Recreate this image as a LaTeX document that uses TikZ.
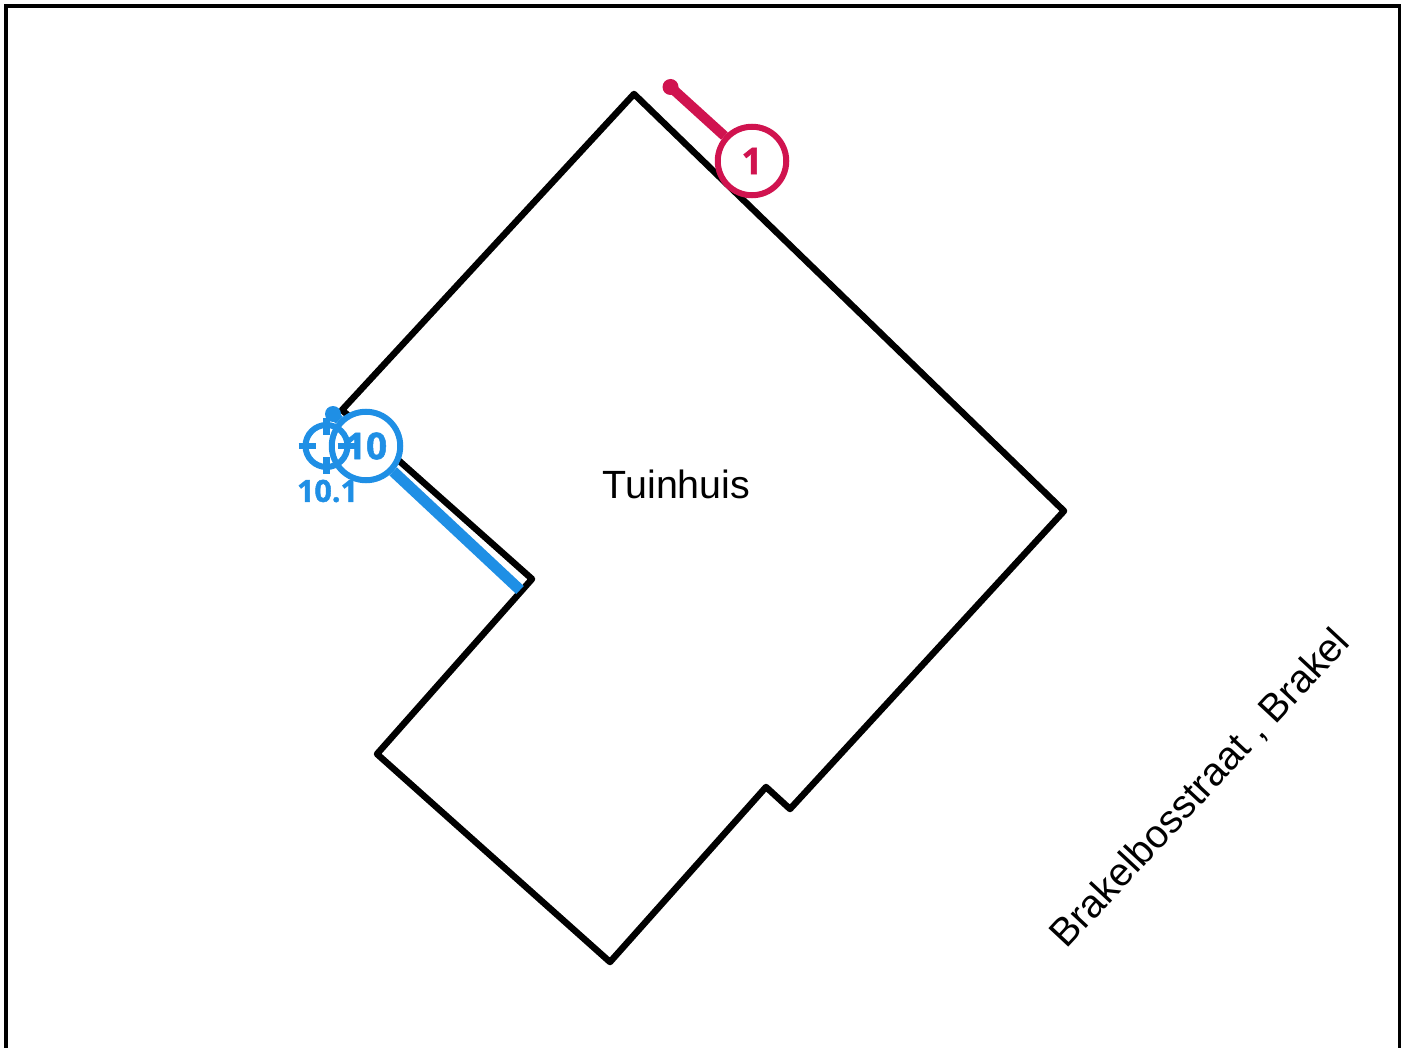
\documentclass[tikz,border=0pt]{standalone}
\usepackage{fontspec}
\setmainfont{Liberation Sans}
\newfontfamily\markfont[BoldFeatures={FakeBold=1.3}]{Open Sans}
\definecolor{redmark}{HTML}{D0134F}
\definecolor{bluemark}{HTML}{1F8FE5}
\tikzset{
  wall/.style={draw=black,line width=6.5pt,line join=round,line cap=round},
  pin/.style={line width=10pt},
  dot/.style={circle,inner sep=0pt,minimum size=16pt},
  bubble/.style={circle,draw,line width=6pt,fill=white,inner sep=0pt,minimum size=68.5pt,font=\markfont\fontsize{37}{37}\selectfont\bfseries},
  tick/.style={draw=bluemark,line width=6.5pt},
}
\begin{document}
\begin{tikzpicture}[x=1pt,y=-1pt]
\useasboundingbox (0,0) rectangle (1405,1048);
\begin{scope}
\clip (0,0) rectangle (1405,1048);
\draw[line width=3.2pt] (6,6) rectangle (1399.5,1070);
\end{scope}
\coordinate (p1) at (634,94);
\coordinate (p2) at (1064,511);
\coordinate (p3) at (790,809);
\coordinate (p4) at (766,787);
\coordinate (p5) at (610,962);
\coordinate (p6) at (377,754);
\coordinate (p7) at (532,579);
\coordinate (p8) at (342,410);
\draw[wall] (p1)--(p2)--(p3)--(p4)--(p5)--(p6)--(p7)--(p8)--cycle;
\node[font=\fontsize{39.4}{39.4}\selectfont] (room) at (676.5,484.5) {Tuinhuis};
\node[font=\fontsize{39.4}{39.4}\selectfont,rotate=47] (street) at (1200.5,789) {Brakelbosstraat , Brakel};
% red marker
\node[dot,fill=redmark] (d1) at (670.5,87) {};
\node[bubble,draw=redmark,text=redmark] (m1) at (752,161) {1};
\draw[pin,draw=redmark] (d1.center)--(m1);
% blue marker
\node[dot,fill=bluemark] (d10) at (333,414) {};
\coordinate (e10) at (520,590);
\node[bubble,draw=bluemark,text=bluemark] (m10) at (366,446) {10};
\draw[pin,draw=bluemark,line width=11pt] (e10)--(m10);
\draw[pin,draw=bluemark] (d10.center)--(m10);
% crosshair
\node[circle,draw=bluemark,line width=6pt,inner sep=0pt,minimum size=42pt] (ch) at (326.5,446) {};
\draw[tick] ([xshift=-28pt]ch.center) -- ([xshift=-11pt]ch.center);
\draw[tick] ([xshift=11pt]ch.center) -- ([xshift=28pt]ch.center);
\draw[tick] ([yshift=28pt]ch.center) -- ([yshift=11pt]ch.center);
\draw[tick] ([yshift=-11pt]ch.center) -- ([yshift=-28pt]ch.center);
\node[text=bluemark,font=\markfont\fontsize{30.5}{30.5}\selectfont\bfseries] (lab) at (327.5,491) {10.1};
\end{tikzpicture}
\end{document}
